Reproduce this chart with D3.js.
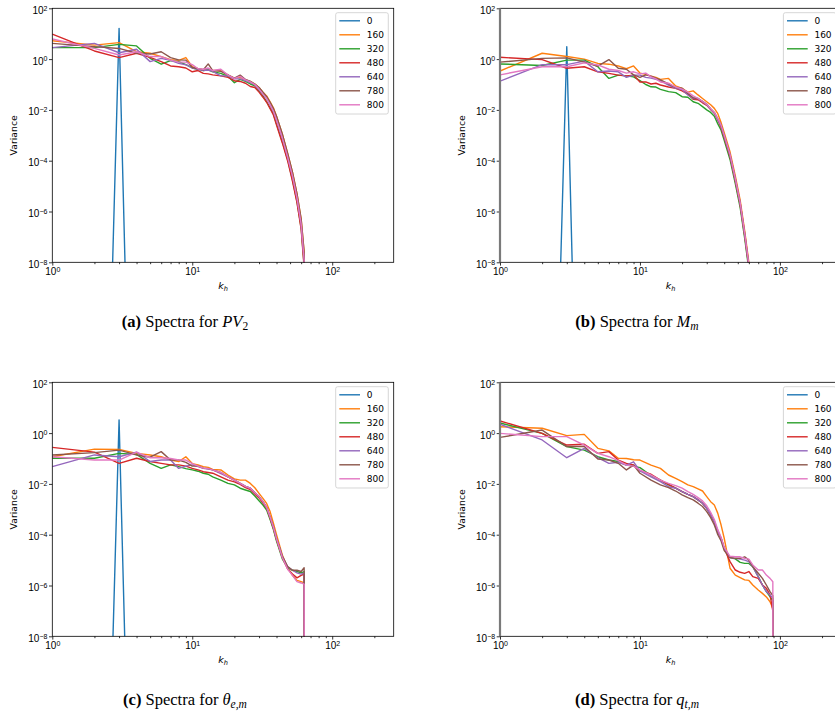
<!DOCTYPE html>
<html>
<head>
<meta charset="utf-8">
<script src="https://cdn.jsdelivr.net/npm/d3@7"></script>
<style>
  body { margin: 0; background: #fff; }
  svg { display: block; }
</style>
</head>
<body>
<script>
// wavenumbers k_h
const kLow = [1,2,3,4,5,6,7,8,9,10,11,12,13,14,16,18,20,22,24,26,28,30,32,34,36,38,40,44,48,52,56,60,63,64];
const kQt = [1,2,3,4,5,6,7,8,9,10,12,14,16,18,20,22,24,26,28,30,32,34,36,38,40,44,48,52,56,60,64,70,75,80,85,89,90];
const kSpike = [2,3,4];

const seriesNames = ["0","160","320","480","640","780","800"];
const colors = ["#1f77b4","#ff7f0e","#2ca02c","#d62728","#9467bd","#8c564b","#e377c2"];

const xTicks = [1, 10, 100];
const xMinor = [2,3,4,5,6,7,8,9,20,30,40,50,60,70,80,90,200];
const yTicks = [1e2, 1e0, 1e-2, 1e-4, 1e-6, 1e-8];

// exponents: variance = 10^e
// (a) PV2
const pvSpike = [-34, 1.21, -26];
const pv160 = [0.72,0.55,0.65,0.29,0.23,0.1,-0.02,-0.05,0.06,-0.3,-0.38,-0.42,-0.42,-0.45,-0.45,-0.63,-0.75,-0.72,-0.82,-0.88,-0.98,-1.12,-1.3,-1.45,-1.68,-1.92,-2.25,-2.95,-3.7,-4.45,-5.3,-6.3,-7.6,-9.5];
const pv320 = [0.45,0.45,0.58,0.52,0.03,-0.2,-0.06,-0.1,-0.22,-0.35,-0.4,-0.45,-0.42,-0.5,-0.56,-0.68,-0.93,-0.8,-0.88,-0.98,-1.05,-1.25,-1.45,-1.68,-1.92,-2.15,-2.55,-3.25,-3.95,-4.75,-5.6,-6.65,-8.1,-9.5];
const pv480 = [0.98,0.32,0.06,0.23,0.07,-0.1,-0.27,-0.3,-0.35,-0.5,-0.45,-0.56,-0.58,-0.62,-0.66,-0.72,-0.85,-0.88,-0.95,-1.08,-1.12,-1.3,-1.5,-1.7,-1.95,-2.2,-2.6,-3.3,-4.0,-4.8,-5.65,-6.7,-8.2,-9.5];
const pv640 = [0.45,0.62,0.25,0.39,-0.1,0.03,-0.05,-0.17,-0.22,-0.35,-0.4,-0.45,-0.43,-0.48,-0.66,-0.66,-0.78,-0.78,-0.85,-0.92,-1.02,-1.2,-1.38,-1.55,-1.8,-2.05,-2.4,-3.1,-3.85,-4.6,-5.45,-6.5,-7.9,-9.5];
const pv780 = [0.62,0.49,0.42,0.23,0.2,0.29,0.06,-0.03,-0.04,-0.33,-0.38,-0.42,-0.19,-0.45,-0.48,-0.62,-0.75,-0.63,-0.8,-0.88,-0.98,-1.12,-1.3,-1.48,-1.7,-1.95,-2.25,-2.95,-3.7,-4.45,-5.3,-6.3,-7.6,-9.5];
const pv800 = [0.79,0.42,0.16,0.29,0.1,0.1,-0.04,-0.12,-0.12,-0.22,-0.38,-0.4,-0.35,-0.45,-0.4,-0.63,-0.76,-0.68,-0.82,-0.9,-1.0,-1.18,-1.38,-1.55,-1.8,-2.05,-2.4,-3.1,-3.85,-4.6,-5.45,-6.5,-7.9,-9.5];

// (b) M_m
const mSpike = [-34, 0.49, -27];
const m160 = [-0.47,0.23,0.1,0.0,-0.17,-0.2,-0.27,-0.38,-0.27,-0.55,-0.6,-0.67,-0.72,-0.8,-0.76,-1.06,-1.15,-1.3,-1.25,-1.41,-1.55,-1.68,-1.8,-1.94,-2.15,-2.5,-2.9,-3.65,-4.6,-5.55,-6.75,-8.0,-9.0,-9.5];
const m320 = [-0.19,-0.25,-0.04,-0.04,-0.3,-0.76,-0.63,-0.66,-0.7,-0.85,-1.0,-1.09,-1.1,-1.19,-1.28,-1.32,-1.48,-1.5,-1.68,-1.74,-1.87,-2.0,-2.1,-2.25,-2.55,-2.8,-3.2,-3.95,-4.9,-5.85,-7.05,-8.3,-9.0,-9.5];
const m480 = [0.07,-0.02,-0.36,-0.3,-0.5,-0.56,-0.63,-0.66,-0.63,-0.9,-0.9,-0.98,-0.95,-1.02,-1.1,-1.15,-1.25,-1.38,-1.58,-1.6,-1.72,-1.82,-1.98,-2.13,-2.4,-2.7,-3.1,-3.85,-4.8,-5.75,-6.95,-8.2,-9.0,-9.5];
const m640 = [-0.87,-0.22,-0.22,-0.08,-0.5,-0.47,-0.5,-0.72,-0.63,-0.63,-0.72,-0.75,-0.8,-0.85,-1.02,-1.15,-1.2,-1.41,-1.55,-1.55,-1.68,-1.8,-1.98,-2.13,-2.4,-2.65,-3.05,-3.8,-4.75,-5.7,-6.9,-8.15,-9.0,-9.5];
const m780 = [-0.12,0.03,0.05,-0.12,-0.28,-0.02,-0.36,-0.4,-0.62,-0.72,-0.62,-0.67,-0.75,-0.82,-0.98,-1.12,-1.15,-1.35,-1.52,-1.55,-1.66,-1.78,-1.95,-2.1,-2.35,-2.6,-3.0,-3.75,-4.7,-5.65,-6.85,-8.1,-9.0,-9.5];
const m800 = [-0.62,-0.3,-0.3,-0.15,-0.23,-0.4,-0.45,-0.55,-0.5,-0.58,-0.55,-0.7,-0.78,-0.9,-0.95,-1.1,-1.18,-1.3,-1.45,-1.55,-1.66,-1.78,-1.95,-2.1,-2.35,-2.6,-3.0,-3.75,-4.7,-5.65,-6.85,-8.1,-9.0,-9.5];

// (c) theta_e,m
const thSpike = [-34, 0.52, -26];
const th160 = [-0.93,-0.63,-0.64,-0.8,-0.86,-0.93,-1.06,-1.12,-0.93,-1.2,-1.25,-1.32,-1.35,-1.43,-1.45,-1.65,-1.8,-1.85,-1.85,-1.98,-2.15,-2.37,-2.57,-2.77,-3.09,-3.55,-4.0,-4.8,-5.3,-5.6,-5.8,-5.85,-5.9,-30];
const th320 = [-0.99,-0.99,-0.8,-0.84,-1.19,-1.39,-1.25,-1.32,-1.4,-1.45,-1.5,-1.58,-1.62,-1.72,-1.85,-1.98,-2.04,-2.17,-2.24,-2.3,-2.48,-2.66,-2.83,-3.03,-3.4,-3.8,-4.25,-4.95,-5.3,-5.4,-5.45,-5.5,-5.45,-30];
const th480 = [-0.56,-0.75,-1.19,-0.99,-1.12,-1.19,-1.25,-1.25,-1.3,-1.39,-1.45,-1.52,-1.55,-1.58,-1.72,-1.85,-1.92,-2.02,-2.15,-2.22,-2.4,-2.55,-2.75,-2.95,-3.35,-3.75,-4.2,-4.9,-5.35,-5.55,-5.7,-5.6,-5.55,-30];
const th640 = [-1.32,-0.86,-0.93,-0.75,-1.12,-1.06,-1.06,-1.39,-1.3,-1.25,-1.32,-1.39,-1.42,-1.45,-1.59,-1.72,-1.85,-1.98,-2.1,-2.17,-2.35,-2.5,-2.7,-2.92,-3.3,-3.7,-4.15,-4.85,-5.25,-5.4,-5.5,-5.55,-5.5,-30];
const th780 = [-0.86,-0.77,-0.67,-0.86,-0.95,-0.73,-1.06,-1.06,-1.15,-1.3,-1.3,-1.38,-1.4,-1.45,-1.55,-1.72,-1.85,-1.98,-2.1,-2.17,-2.35,-2.5,-2.7,-2.92,-3.3,-3.68,-4.14,-4.85,-5.25,-5.4,-5.4,-5.45,-5.3,-30];
const th800 = [-0.93,-1.06,-1.06,-0.75,-0.97,-0.97,-1.0,-1.06,-1.06,-1.2,-1.3,-1.38,-1.4,-1.45,-1.55,-1.72,-1.85,-1.98,-2.1,-2.17,-2.35,-2.5,-2.7,-2.92,-3.3,-3.7,-4.15,-4.9,-5.35,-5.6,-5.85,-5.9,-5.95,-30];

// (d) q_t,m  (series 0 has nothing to draw)
const qt160 = [0.25,0.19,-0.1,-0.05,-0.6,-0.7,-0.99,-1.0,-1.05,-1.06,-1.26,-1.39,-1.65,-1.78,-1.91,-2.04,-2.11,-2.2,-2.28,-2.5,-2.7,-2.83,-3.16,-3.62,-4.14,-5.32,-5.59,-5.69,-5.78,-5.8,-5.98,-6.18,-6.31,-6.45,-6.64,-6.9,-30];
const qt320 = [0.4,-0.01,-0.53,-0.67,-0.93,-1.06,-1.12,-1.26,-1.3,-1.36,-1.67,-1.85,-2.04,-2.17,-2.3,-2.41,-2.5,-2.63,-2.76,-2.96,-3.22,-3.49,-3.88,-4.14,-4.54,-4.9,-4.95,-5.09,-5.13,-5.13,-5.26,-5.65,-5.98,-6.24,-6.44,-6.6,-30];
const qt480 = [0.48,-0.01,-0.47,-0.44,-0.8,-0.73,-1.06,-1.19,-1.25,-1.49,-1.62,-1.85,-2.02,-2.17,-2.3,-2.41,-2.5,-2.63,-2.76,-2.96,-3.22,-3.49,-3.88,-4.14,-4.54,-5.06,-5.39,-5.48,-5.52,-5.45,-5.65,-5.72,-5.98,-6.11,-6.37,-7.0,-30];
const qt640 = [0.35,-0.27,-0.97,-0.6,-0.97,-1.19,-1.15,-1.26,-1.13,-1.49,-1.72,-1.91,-2.11,-2.17,-2.3,-2.41,-2.5,-2.63,-2.76,-2.96,-3.22,-3.49,-3.88,-4.14,-4.54,-4.9,-4.93,-4.96,-5.0,-5.06,-5.26,-5.65,-5.98,-6.24,-6.37,-6.5,-30];
const qt780 = [-0.17,0.12,-0.53,-0.53,-1.02,-1.06,-1.19,-1.45,-1.26,-1.58,-1.85,-2.04,-2.15,-2.28,-2.43,-2.54,-2.63,-2.76,-2.89,-3.09,-3.33,-3.62,-4.0,-4.25,-4.62,-4.9,-4.93,-4.93,-4.87,-5.0,-5.26,-5.52,-5.72,-5.98,-6.24,-6.4,-30];
const qt800 = [-0.01,-0.14,-0.14,-0.47,-0.8,-0.93,-1.08,-1.26,-1.3,-1.45,-1.65,-1.85,-1.98,-2.07,-2.17,-2.3,-2.41,-2.54,-2.67,-2.86,-3.12,-3.4,-3.8,-4.1,-4.5,-4.85,-4.87,-4.87,-4.93,-4.96,-5.19,-5.39,-5.39,-5.59,-5.72,-5.85,-30];

const W = 835, H = 718;
const plotW = 341.4, plotH = 254;

const svg = d3.select("body").append("svg")
    .attr("width", W)
    .attr("height", H)
    .style("font-family", "'DejaVu Sans', sans-serif");

const panels = [
    { left: 52.3, top: 8.3, k: kLow, spike: pvSpike, sets: [pv160, pv320, pv480, pv640, pv780, pv800],
      capX: 185, capY: 327, cap: [["(a)", "b"], [" Spectra for ", "r"], ["PV", "i"], ["2", "sr"]] },
    { left: 500, top: 8.3, k: kLow, spike: mSpike, sets: [m160, m320, m480, m640, m780, m800], grey: true,
      capX: 637, capY: 327, cap: [["(b)", "b"], [" Spectra for ", "r"], ["M", "i"], ["m", "si"]] },
    { left: 52.3, top: 382.3, k: kLow, spike: thSpike, sets: [th160, th320, th480, th640, th780, th800],
      capX: 185, capY: 705, cap: [["(c)", "b"], [" Spectra for ", "r"], ["θ", "i"], ["e,m", "si"]] },
    { left: 500, top: 382.3, k: kQt, spike: null, sets: [qt160, qt320, qt480, qt640, qt780, qt800], grey: true,
      capX: 637, capY: 705, cap: [["(d)", "b"], [" Spectra for ", "r"], ["q", "i"], ["t,m", "si"]] }
];

function supLabel(sel, d) {
    // 10^n written as "10" plus a raised exponent
    const e = Math.round(Math.log10(d));
    sel.text(null);
    sel.append("tspan").text("10");
    sel.append("tspan").attr("dy", "-0.45em").attr("font-size", "7px")
        .text(e < 0 ? "\u2212" + (-e) : String(e));
}

panels.forEach((p, idx) => {
    const g = svg.append("g").attr("transform", `translate(${p.left},${p.top})`);
    const x = d3.scaleLog().domain([1, 275]).range([0, plotW]);
    const y = d3.scaleLog().domain([1e-8, 1e2]).range([plotH, 0]);

    g.append("clipPath").attr("id", "clip" + idx)
        .append("rect").attr("width", plotW).attr("height", plotH);

    const line = d3.line().x(d => x(d[0])).y(d => y(d[1]));
    const lines = g.append("g").attr("clip-path", `url(#clip${idx})`);

    const all = [p.spike ? { k: kSpike, e: p.spike } : null]
        .concat(p.sets.map(s => ({ k: p.k, e: s })));
    all.forEach((s, i) => {
        if (!s) return;
        lines.append("path")
            .datum(s.k.map((k, j) => [k, Math.pow(10, s.e[j])]))
            .attr("d", line)
            .attr("fill", "none")
            .attr("stroke", colors[i])
            .attr("stroke-width", 1.4)
            .attr("stroke-linejoin", "round");
    });

    // x axis
    const gx = g.append("g").attr("transform", `translate(0,${plotH})`)
        .call(d3.axisBottom(x).tickValues(xTicks).tickSize(3.3).tickSizeOuter(0).tickPadding(2));
    gx.selectAll(".tick text").attr("font-size", "10px").attr("fill", "#000").attr("dy", "0.76em")
        .each(function (d) { supLabel(d3.select(this), d); });
    g.append("g").attr("transform", `translate(0,${plotH})`)
        .call(d3.axisBottom(x).tickValues(xMinor).tickSize(1.9).tickSizeOuter(0).tickFormat(""));

    // y axis
    const gy = g.append("g")
        .call(d3.axisLeft(y).tickValues(yTicks).tickSize(3.3).tickSizeOuter(0).tickPadding(1.6));
    gy.selectAll(".tick text").attr("font-size", "10px").attr("fill", "#000").attr("dy", "0.5em")
        .each(function (d) { supLabel(d3.select(this), d); });

    g.selectAll(".domain").remove();
    g.selectAll(".tick line").attr("stroke", "#000").attr("stroke-width", 0.8);

    // frame
    g.append("rect").attr("width", plotW).attr("height", plotH)
        .attr("fill", "none").attr("stroke", "#000").attr("stroke-width", 0.8);
    if (p.grey) {
        g.append("line").attr("x1", 0).attr("x2", 0).attr("y1", 0).attr("y2", plotH)
            .attr("stroke", "#7a7a7a").attr("stroke-width", 2.2);
    }

    // axis labels
    const xl = g.append("text").attr("x", plotW / 2).attr("y", 281)
        .attr("text-anchor", "middle").attr("font-size", "9.5px");
    xl.append("tspan").attr("font-style", "italic").text("k");
    xl.append("tspan").attr("font-style", "italic").attr("font-size", "6.6px").attr("dy", "0.2em").text("h");

    g.append("text")
        .attr("transform", `translate(${-35.5},${plotH / 2}) rotate(-90)`)
        .attr("text-anchor", "middle").attr("font-size", "9.3px")
        .text("Variance");

    // legend
    const lx = plotW - 58, ly = 4.4;
    const lg = g.append("g").attr("transform", `translate(${lx},${ly})`);
    lg.append("rect").attr("width", 52.6).attr("height", 101.3).attr("rx", 2)
        .attr("fill", "#fff").attr("fill-opacity", 0.8)
        .attr("stroke", "#cccccc").attr("stroke-width", 0.8);
    seriesNames.forEach((name, i) => {
        const ry = 8.1 + i * 14;
        lg.append("line").attr("x1", 3.6).attr("x2", 24.3).attr("y1", ry).attr("y2", ry)
            .attr("stroke", colors[i]).attr("stroke-width", 1.4);
        lg.append("text").attr("x", 31).attr("y", ry + 3.2).attr("font-size", "9px").text(name);
    });

    // caption below the panel
    const cap = svg.append("text").attr("x", p.capX).attr("y", p.capY)
        .attr("text-anchor", "middle")
        .style("font-family", "'Liberation Serif', 'DejaVu Serif', serif")
        .attr("font-size", "16.5px");
    p.cap.forEach(([t, s]) => {
        const ts = cap.append("tspan").text(t);
        if (s === "b") ts.attr("font-weight", "bold");
        if (s === "i") ts.attr("font-style", "italic");
        if (s === "si" || s === "sr") {
            ts.attr("font-size", "11.5px").attr("dy", "0.3em");
            if (s === "si") ts.attr("font-style", "italic");
        }
    });
});
</script>
</body>
</html>
